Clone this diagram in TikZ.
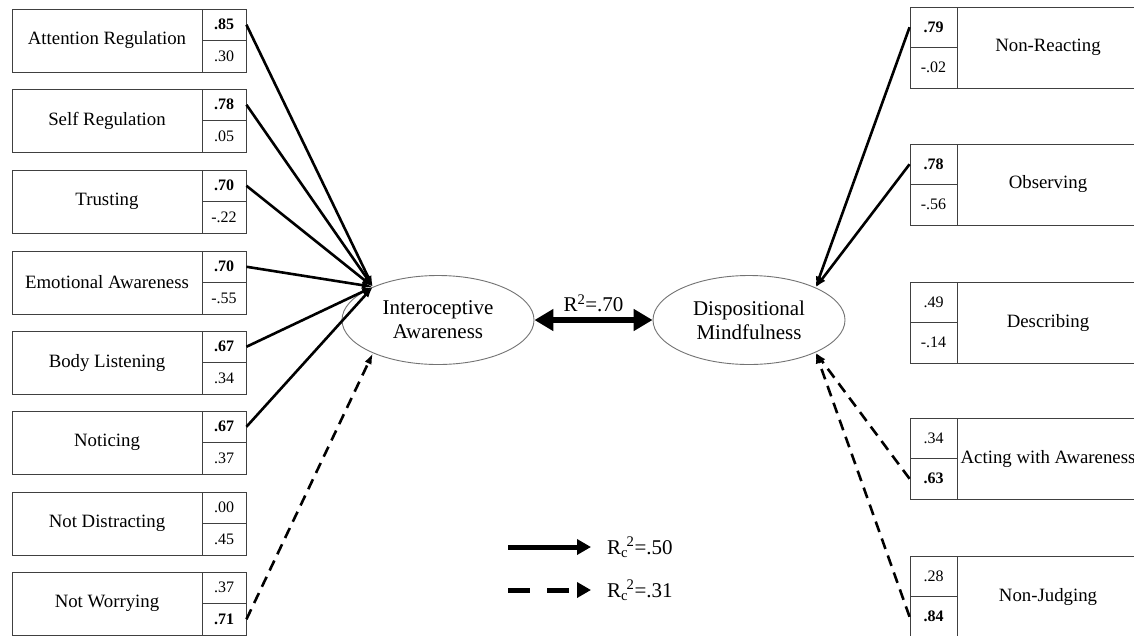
\documentclass[tikz,border=0pt]{standalone}
\usepackage{fontspec}
\setmainfont{Liberation Serif}
\usetikzlibrary{arrows.meta,shapes.geometric}
\begin{document}
\begin{tikzpicture}[x=1pt,y=-1pt,
  cellbox/.style={draw=black!75, line width=0.9pt, inner sep=0pt, align=center},
  lablbox/.style={cellbox, font=\fontsize{18.8}{21}\selectfont},
  numbox/.style={cellbox, font=\fontsize{16}{18}\selectfont},
  bnum/.style={numbox, font=\fontsize{16}{18}\selectfont\bfseries},
  latent/.style={ellipse, draw=black!55, line width=0.9pt, minimum width=192pt, minimum height=89pt, inner sep=0pt, align=center, font=\fontsize{21}{24}\selectfont},
  path/.style={line width=2.6pt, -{Latex[length=11pt,width=7.5pt]}},
  dpath/.style={path, dash pattern=on 11pt off 7pt},
  legtxt/.style={font=\fontsize{21}{23}\selectfont, anchor=west, inner sep=0pt}
]
\useasboundingbox[fill=white] (0,0) rectangle (1134,635);

% ---------- left indicator boxes ----------
\newcommand{\leftbox}[7]{%
  \node[lablbox, minimum width=190pt, minimum height=63pt] (#1) at (107,#2+31.5) {#3};
  \node[#6, minimum width=44pt, minimum height=31.5pt] (#1u) at (224,#2+15.75) {#4};
  \node[#7, minimum width=44pt, minimum height=31.5pt] (#1l) at (224,#2+47.25) {#5};
}
\leftbox{ar}{9}{Attention Regulation}{.85}{.30}{bnum}{numbox}
\leftbox{sr}{89}{Self Regulation}{.78}{.05}{bnum}{numbox}
\leftbox{tr}{170}{Trusting}{.70}{-.22}{bnum}{numbox}
\leftbox{ea}{251}{Emotional Awareness}{.70}{-.55}{bnum}{numbox}
\leftbox{bl}{331}{Body Listening}{.67}{.34}{bnum}{numbox}
\leftbox{no}{411}{Noticing}{.67}{.37}{bnum}{numbox}
\leftbox{nd}{492}{Not Distracting}{.00}{.45}{numbox}{numbox}
\leftbox{nw}{572}{Not Worrying}{.37}{.71}{numbox}{bnum}

% ---------- right indicator boxes ----------
\newcommand{\rightbox}[7]{%
  \node[lablbox, minimum width=182pt, minimum height=81pt] (#1) at (1048,#2+40.5) {#3};
  \node[#6, minimum width=47pt, minimum height=40.5pt] (#1u) at (933.5,#2+20.25) {#4};
  \node[#7, minimum width=47pt, minimum height=40.5pt] (#1l) at (933.5,#2+60.75) {#5};
}
\rightbox{nr}{7}{Non-Reacting}{.79}{-.02}{bnum}{numbox}
\rightbox{ob}{144}{Observing}{.78}{-.56}{bnum}{numbox}
\rightbox{de}{282}{Describing}{.49}{-.14}{numbox}{numbox}
\rightbox{aw}{418}{Acting with Awareness}{.34}{.63}{numbox}{bnum}
\rightbox{nj}{556}{Non-Judging}{.28}{.84}{numbox}{bnum}

% ---------- latent variables ----------
\node[latent] (ia) at (438,320) {Interoceptive\\Awareness};
\node[latent] (dm) at (749,320) {Dispositional\\Mindfulness};

% ---------- correlation ----------
\draw[line width=6pt, {Triangle[length=19pt,width=21pt]}-{Triangle[length=19pt,width=21pt]}] (ia.east) -- (dm.west)
  node[midway, above=5pt, font=\fontsize{21}{23}\selectfont, inner sep=0pt] (r2) {R\textsuperscript{2}=.70};

% ---------- loadings ----------
\foreach \b in {ar,sr,tr,ea,bl,no}{
  \draw[path] (\b u.east) -- (ia.153);
}
\draw[dpath] (nwl.east) -- (ia.207);
\draw[path] (nru.west) -- (dm.26);
\draw[path] (obu.west) -- (dm.26);
\draw[dpath] (awl.west) -- (dm.-26);
\draw[dpath] (njl.west) -- (dm.-26);

% ---------- legend ----------
\coordinate (s1) at (508,547);
\coordinate (e1) at (591,547);
\coordinate (s2) at (508,590);
\coordinate (e2) at (591,590);
\draw[line width=5pt, -{Triangle[length=14pt,width=15pt]}] (s1) -- (e1);
\draw[line width=5pt, dash pattern=on 22pt off 17pt, -{Triangle[length=14pt,width=15pt]}] (s2) -- (e2);
\node[legtxt] (t1) at (607,547) {R\textsubscript{c}\kern-1.5pt\textsuperscript{2}=.50};
\node[legtxt] (t2) at (607,590) {R\textsubscript{c}\kern-1.5pt\textsuperscript{2}=.31};
\end{tikzpicture}
\end{document}
